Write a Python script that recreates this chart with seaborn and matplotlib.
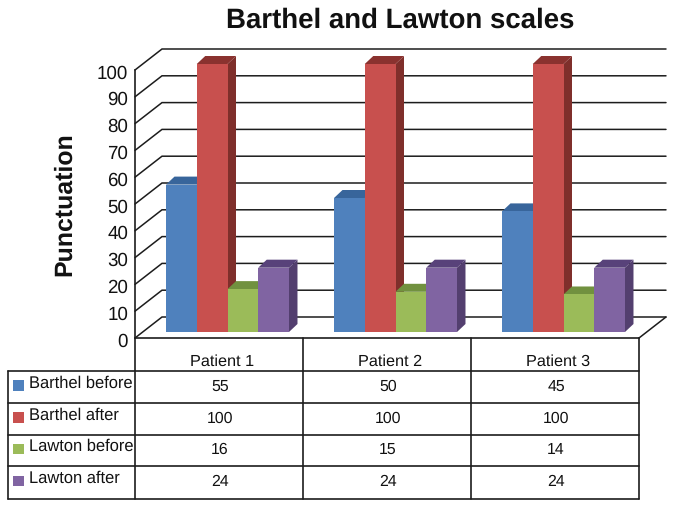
"""Barthel and Lawton scales - fake 3D Excel-style bars with a data table"""

import matplotlib
matplotlib.use("Agg")
import matplotlib.pyplot as plt
from matplotlib.patches import Polygon, Rectangle
from matplotlib.transforms import ScaledTranslation
import pandas as pd
import seaborn as sns

patients = ["Patient 1", "Patient 2", "Patient 3"]
series = ["Barthel before", "Barthel after", "Lawton before", "Lawton after"]
barthel_before = [55, 50, 45]
barthel_after = [100, 100, 100]
lawton_before = [16, 15, 14]
lawton_after = [24, 24, 24]
y_ticks = [0, 10, 20, 30, 40, 50, 60, 70, 80, 90, 100]

FRONT = ["#4F81BD", "#C8504E", "#9BBB59", "#8064A2"]
TOP = ["#38659B", "#8A322F", "#71913F", "#58427A"]
SIDE = ["#38659B", "#7F2F2B", "#71913F", "#533F6F"]
LINE = "#1c1c1c"

W, H = 674, 508
PX_PER_UNIT = 2.68
DEPTH_X, DEPTH_Y = 8.5, 8.0
GROUP_STEP = 168


def px_axes(fig, left, top, right, bottom, **kw):
    return fig.add_axes([left / W, 1 - bottom / H, (right - left) / W, (bottom - top) / H], **kw)


values = [barthel_before, barthel_after, lawton_before, lawton_after]
df = pd.DataFrame({
    "patient": [p for _ in series for p in patients],
    "series": [s for s in series for _ in patients],
    "value": [v for vals in values for v in vals],
})

sns.set_style("white")
plt.rcParams["font.family"] = ["Liberation Sans", "DejaVu Sans"]
plt.rcParams["text.hinting"] = "no_hinting"

fig = plt.figure(figsize=(W / 100, H / 100), dpi=100, facecolor="white")

# Overlay in pixel coordinates: walls, floor, table
ov = fig.add_axes([0, 0, 1, 1], zorder=0)
ov.set_xlim(0, W)
ov.set_ylim(H, 0)
ov.axis("off")

for v in y_ticks:
    y_front = 338 - v * PX_PER_UNIT
    y_back = 317 - v * PX_PER_UNIT
    ov.plot([135, 162, 666], [y_front, y_back, y_back], color=LINE, lw=1.1, solid_joinstyle="miter")
ov.plot([639, 666], [338, 317], color=LINE, lw=1.1)

# Data table
row_edges = [338, 371, 403, 435, 466, 499]
col_edges = [135, 303, 471, 639]
ov.plot([135, 639], [338, 338], color=LINE, lw=1.2)
for y in row_edges[1:]:
    ov.plot([8, 639], [y, y], color=LINE, lw=1.2)
ov.plot([8, 8], [371, 499], color=LINE, lw=1.2)
for x in col_edges:
    ov.plot([x, x], [338, 499], color=LINE, lw=1.2)

for i, p in enumerate(patients):
    cx = (col_edges[i] + col_edges[i + 1]) / 2
    ov.text(cx + 3, 362, p, ha="center", va="center", fontsize=11.7, color="#111111")
    for r, vals in enumerate(values):
        cy = (row_edges[r + 1] + row_edges[r + 2]) / 2
        ov.text(cx + 1, cy - 0.5, str(vals[i]), ha="center", va="center", fontsize=11.4, color="#111111")

for r, name in enumerate(series):
    cy = (row_edges[r + 1] + row_edges[r + 2]) / 2
    ov.add_patch(Rectangle((13, cy - 7), 10.5, 10.5, facecolor=FRONT[r], edgecolor="none"))
    ov.text(29, cy - 4, name, ha="left", va="center", fontsize=11.9, color="#111111")

# Front y axis with the tick labels
ax_front = px_axes(fig, 135, 338 - 100 * PX_PER_UNIT, 639, 338, zorder=1, facecolor="none")
ax_front.set_ylim(0, 100)
ax_front.set_xticks([])
ax_front.set_yticks(y_ticks)
ax_front.tick_params(axis="y", length=0, pad=5, labelsize=13.5, labelcolor="#111111")
label_shift = ScaledTranslation(0, -1.5 / 100, fig.dpi_scale_trans)
for label in ax_front.get_yticklabels():
    label.set_transform(label.get_transform() + label_shift)
for name, spine in ax_front.spines.items():
    spine.set_visible(name == "left")
spine = ax_front.spines["left"]
spine.set_color(LINE)
spine.set_linewidth(1.2)

# Bars, the front faces come from seaborn
ax = px_axes(fig, 143.5, 332 - 100 * PX_PER_UNIT, 143.5 + 3 * GROUP_STEP, 332, zorder=2, facecolor="none")
sns.barplot(data=df, x="patient", y="value", hue="series", order=patients, hue_order=series,
            palette=FRONT, width=0.732, gap=0, saturation=1, legend=False, ax=ax)
ax.set_xlim(-0.5, 2.5)
ax.set_ylim(0, 100)
ax.axis("off")

dx = DEPTH_X / GROUP_STEP
dy = DEPTH_Y / PX_PER_UNIT
bars = sorted(ax.patches, key=lambda b: b.get_x())
for i, bar in enumerate(bars):
    x0, w, h = bar.get_x(), bar.get_width(), bar.get_height()
    k = i % 4
    bar.set_edgecolor("none")
    bar.set_zorder(3 * i + 3)
    ax.add_patch(Polygon([(x0 + w, 0), (x0 + w + dx, dy), (x0 + w + dx, h + dy), (x0 + w, h)],
                         closed=True, facecolor=SIDE[k], edgecolor="none", clip_on=False, zorder=3 * i + 1))
    ax.add_patch(Polygon([(x0, h), (x0 + dx, h + dy), (x0 + w + dx, h + dy), (x0 + w, h)],
                         closed=True, facecolor=TOP[k], edgecolor="none", clip_on=False, zorder=3 * i + 2))

fig.text(400 / W, 1 - 20.5 / H, "Barthel and Lawton scales", ha="center", va="center",
         fontsize=19.9, fontweight="bold", color="#111111")
fig.text(64.5 / W, 1 - 204 / H, "Punctuation", ha="center", va="center", rotation=90,
         fontsize=17.9, fontweight="bold", color="#111111")

fig.savefig("out.png", dpi=100)
plt.close()
